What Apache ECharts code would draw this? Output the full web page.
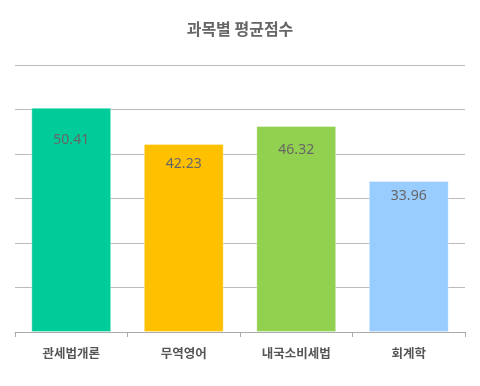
<!DOCTYPE html>
<html>
<head>
<meta charset="utf-8">
<script src="https://cdn.jsdelivr.net/npm/echarts@6/dist/echarts.min.js"></script>
<style>html,body{margin:0;padding:0;background:#fff;}#c{width:480px;height:386px;}</style>
</head>
<body>
<div id="c"></div>
<script>
var titleText = '과목별 평균점수';
var categories = ['관세법개론', '무역영어', '내국소비세법', '회계학'];
var values = [50.41, 42.23, 46.32, 33.96];
var barColors = ['#00CC99', '#FFC000', '#92D050', '#99CCFF'];
var labelDistances = [25, 13, 17, 8];
var yMin = 0, yMax = 60, yInterval = 10;

var chart = echarts.init(document.getElementById('c'));
chart.setOption({
  animation: false,
  backgroundColor: '#fff',
  title: {
    text: titleText, left: 'center', top: 16,
    textStyle: { fontFamily: 'Noto Sans CJK KR', fontSize: 16, fontWeight: 'bold', color: '#666' }
  },
  grid: { left: 15, right: 15, top: 65, bottom: 54, containLabel: false },
  xAxis: {
    type: 'category', data: categories,
    axisLine: { lineStyle: { color: '#aaa', width: 1 } },
    axisTick: { show: true, length: 5, alignWithLabel: false, lineStyle: { color: '#aaa' } },
    axisLabel: { margin: 15, fontFamily: 'Noto Sans CJK KR', fontSize: 12.5, fontWeight: 'bold', color: '#555' }
  },
  yAxis: {
    type: 'value', min: yMin, max: yMax, interval: yInterval,
    axisLabel: { show: false }, axisLine: { show: false }, axisTick: { show: false },
    splitLine: { lineStyle: { color: '#bbb', width: 1 } }
  },
  series: [{
    type: 'bar',
    barWidth: '71%',
    data: values.map(function (v, i) {
      return {
        value: v,
        itemStyle: { color: barColors[i], borderColor: 'rgba(255,255,255,0.35)', borderWidth: 1 },
        label: { distance: labelDistances[i] }
      };
    }),
    label: {
      show: true, position: 'insideTop',
      fontFamily: 'Noto Sans', fontSize: 14, color: '#666',
      formatter: function (p) { return p.value.toFixed(2); }
    }
  }]
});
</script>
</body>
</html>
